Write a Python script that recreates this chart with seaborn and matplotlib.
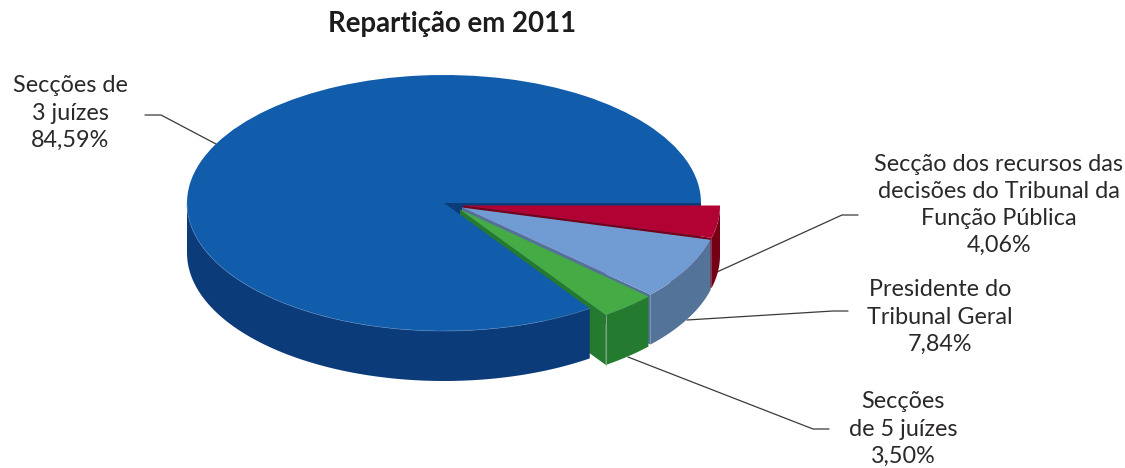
import numpy as np
import matplotlib
matplotlib.use("Agg")
import matplotlib.pyplot as plt
import seaborn as sns

# slices in drawing order, clockwise from 3 o'clock
labels = ["Secção dos recursos das\ndecisões do Tribunal da\nFunção Pública\n4,06%",
          "Presidente do\nTribunal Geral\n7,84%",
          "Secções\nde 5 juízes\n3,50%",
          "Secções de\n3 juízes\n84,59%"]
shares = [4.06, 7.84, 3.50, 84.59]
top_colors = ["#B20234", "#719BD3", "#44AB45", "#125DAB"]
wall_colors = ["#750016", "#547399", "#247A2E", "#0C3B79"]
title = "Repartição em 2011"

# pie geometry in image pixels
W, H = 1125, 468
CX, CY, RX, RY = 444, 203, 257, 128
DEPTH = 50 / RY
# pull-out of each slice (px)
offsets_px = [(19, 2.5), (18, 4.5), (16, 6.5), (0, 0)]
offsets = [(dx / RX, -dy / RY) for dx, dy in offsets_px]

sns.set_theme(style="white")
plt.rcParams["font.family"] = ["Lato", "DejaVu Sans"]
text_color = "#2B2829"

fig = plt.figure(figsize=(W / 100, H / 100), dpi=100)

# underlay in pixel coords for text and leader lines
ax_txt = fig.add_axes([0, 0, 1, 1], zorder=1)
ax_txt.set_xlim(0, W)
ax_txt.set_ylim(H, 0)
ax_txt.axis("off")

ax = fig.add_axes([0, 0, 1, 1], zorder=2)
ax.patch.set_alpha(0)

wedges, _ = ax.pie(shares, colors=top_colors, startangle=0, counterclock=False,
                   wedgeprops={"linewidth": 0, "zorder": 5})
ax.set_aspect("auto")
ax.set_xlim(-CX / RX, (W - CX) / RX)
ax.set_ylim((CY - H) / RY, CY / RY)

edges = np.cumsum([0] + shares) / sum(shares) * 2 * np.pi


def arc_wall(t0, t1, off, color, z):
    t = np.linspace(t0, t1, 80)
    x = off[0] + np.cos(t)
    y = off[1] - np.sin(t)
    ax.fill(np.r_[x, x[::-1]], np.r_[y, y[::-1] - DEPTH], color=color, lw=0, zorder=z)


def radial_wall(t, off, color, z):
    x1, y1 = off[0] + np.cos(t), off[1] - np.sin(t)
    ax.fill([off[0], x1, x1, off[0]], [off[1], y1, y1 - DEPTH, off[1] - DEPTH],
            color=color, lw=0, zorder=z)


# dark inside of the notch left by the pulled-out slices
radial_wall(0, offsets[3], wall_colors[3], 1)

for i in range(3):
    wedges[i].set_center(offsets[i])
    radial_wall(edges[i + 1], offsets[i], wall_colors[i], 2)
    arc_wall(edges[i], edges[i + 1], offsets[i], wall_colors[i], 3)

arc_wall(edges[3], np.pi, offsets[3], wall_colors[3], 4)

# thin light rim on the front of the big slice
t = np.linspace(edges[3], np.pi, 100)
ax.plot(np.cos(t), -np.sin(t), color="#4F82BC", lw=0.4, zorder=6)

# light seam on the green block
t = edges[3]
gx, gy = offsets[2][0] + np.cos(t), offsets[2][1] - np.sin(t)
ax.plot([gx, gx], [gy, gy - DEPTH], color="#8FAF92", lw=0.6, zorder=6)

# leader lines
leaders = [
    ([858, 842, 717], [215, 215, 272]),
    ([848, 833, 687], [311, 311, 320]),
    ([829, 813, 628], [429, 429, 357]),
    ([145, 161, 216], [115, 115, 144]),
]
for lx, ly in leaders:
    ax_txt.plot(lx, ly, color="#3A3A3A", lw=0.9)

label_pos = [(999, 205), (940, 317), (903, 429), (70, 113)]
for text, (tx, ty) in zip(labels, label_pos):
    ax_txt.text(tx, ty, text, ha="center", va="center", fontsize=16.8,
                color=text_color, linespacing=1.36)

ax_txt.text(452, 24, title, ha="center", va="center", fontsize=19.9,
            fontweight="bold", color="#1E1B1C")

fig.savefig("out.png", dpi=100)
